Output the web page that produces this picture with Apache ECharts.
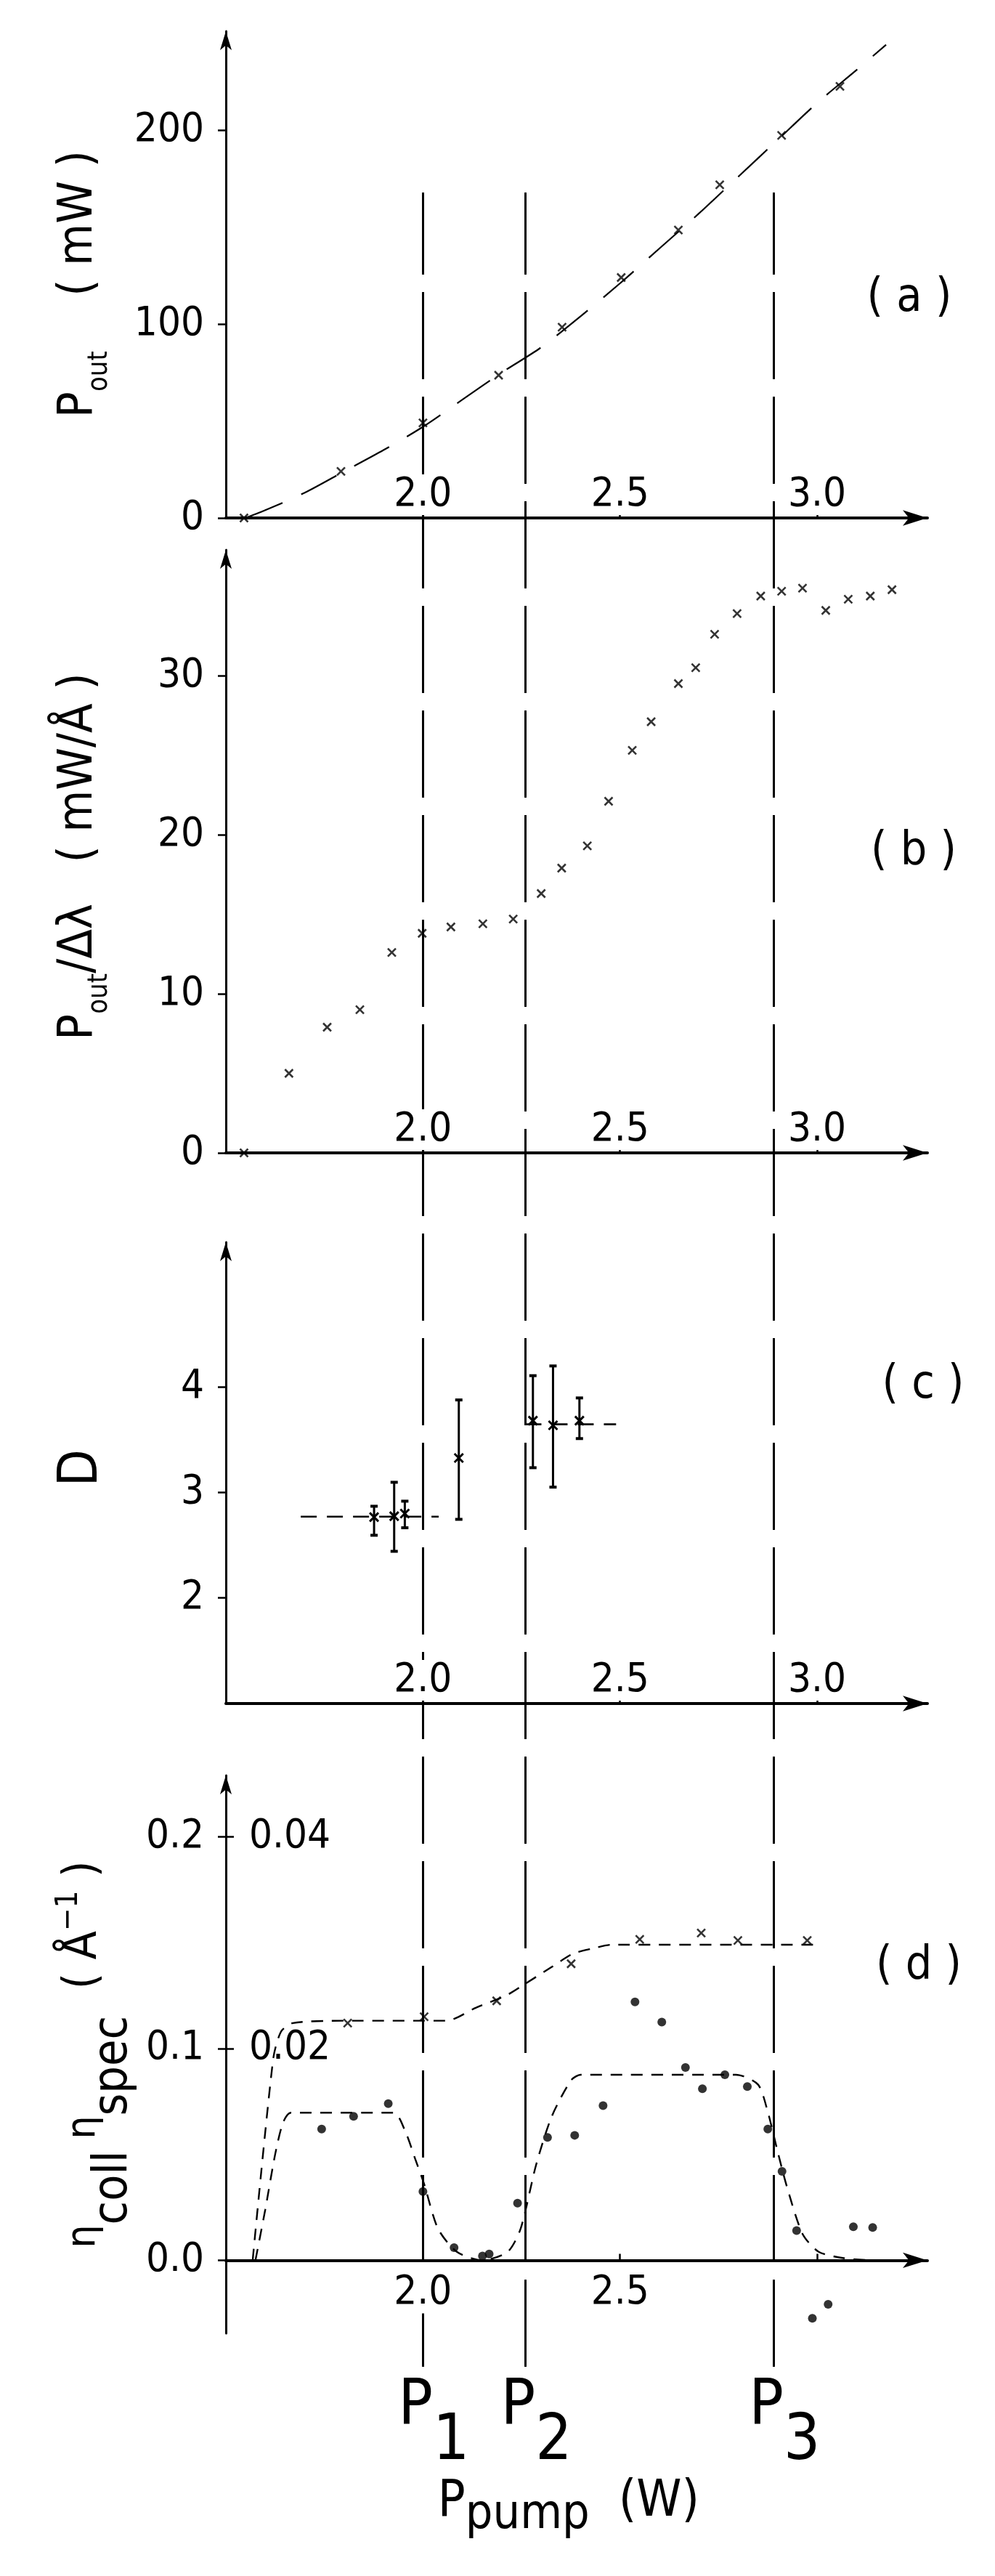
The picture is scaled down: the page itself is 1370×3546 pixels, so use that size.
<!DOCTYPE html>
<html><head><meta charset="utf-8">
<script src="https://cdn.jsdelivr.net/npm/echarts@6/dist/echarts.min.js"></script>
<style>html,body{margin:0;padding:0;background:#fff}#c{width:1370px;height:3546px}</style>
</head><body><div id="c"></div><script>
// ---------------- data ----------------
const X_MIN = 1.5, X_MAX = 3.28;
const xTickValues = [2.0, 2.5, 3.0];
const xLabelValuesD = [2.0, 2.5];

// (a) output power (mW)
const aP      = [1.546, 1.792, 2.0, 2.192, 2.353, 2.503, 2.648, 2.753, 2.91, 3.058];
const aPout   = [0, 24, 49, 73.6, 98.4, 124, 148.5, 171.8, 197.3, 222.6];
const aFitP   = [1.55, 1.6, 1.7, 1.8, 1.9, 2.0, 2.1, 2.2, 2.3, 2.4, 2.5, 2.6, 2.7, 2.8, 2.9, 3.0, 3.1, 3.175];
const aFitOut = [0, 4, 13, 24, 35, 47, 61, 75, 88, 104, 121, 139, 157, 176, 195, 214, 231, 244];
const aTicks  = [0, 100, 200];

// (b) P_out / Δλ (mW/Å)
const bP   = [1.546, 1.66, 1.757, 1.84, 1.921, 1.998, 2.071, 2.152, 2.229, 2.30, 2.352, 2.417, 2.471, 2.531, 2.579, 2.648, 2.692, 2.74, 2.797, 2.857, 2.91, 2.963, 3.022, 3.079, 3.135, 3.19];
const bVal = [0, 5.0, 7.9, 9.0, 12.6, 13.8, 14.2, 14.4, 14.7, 16.3, 17.9, 19.3, 22.1, 25.3, 27.1, 29.5, 30.5, 32.6, 33.9, 35.0, 35.3, 35.5, 34.1, 34.8, 35.0, 35.4];
const bTicks = [0, 10, 20, 30];

// (c) D with error bars
const cP  = [1.876, 1.927, 1.954, 2.091, 2.279, 2.33, 2.397];
const cD  = [2.766, 2.775, 2.80, 3.326, 3.68, 3.636, 3.68];
const cLo = [2.594, 2.442, 2.665, 2.745, 3.234, 3.05, 3.51];
const cHi = [2.869, 3.096, 2.917, 3.876, 4.106, 4.198, 3.895];
const cFitLeftP  = [1.69, 2.04];
const cFitLeftD  = [2.77, 2.77];
const cFitRightP = [2.26, 2.49];
const cFitRightD = [3.645, 3.645];
const cTicks = [2, 3, 4];

// (d) eta_coll (dots, left scale) and eta_spec (crosses, right scale in 1/Å)
const dCollP = [1.743, 1.824, 1.912, 2.0, 2.079, 2.151, 2.168, 2.24, 2.316, 2.385, 2.457, 2.538, 2.606, 2.666, 2.709, 2.766, 2.823, 2.875, 2.911, 2.948, 2.988, 3.028, 3.092, 3.141];
const dColl  = [0.062, 0.068, 0.074, 0.0325, 0.006, 0.002, 0.003, 0.027, 0.058, 0.059, 0.073, 0.122, 0.1125, 0.091, 0.081, 0.0876, 0.082, 0.062, 0.042, 0.014, -0.0274, -0.0208, 0.0158, 0.0155];
const dCollFitP = [1.575, 1.6, 1.625, 1.645, 1.665, 1.925, 1.957, 1.98, 2.003, 2.038, 2.086, 2.151, 2.215, 2.248, 2.287, 2.327, 2.376, 2.40, 2.794, 2.85, 2.875, 2.899, 2.923, 2.963, 3.004, 3.068, 3.141];
const dCollFit  = [0, 0.024, 0.05, 0.065, 0.0697, 0.0697, 0.06, 0.048, 0.036, 0.015, 0.004, 0, 0.004, 0.015, 0.045, 0.068, 0.085, 0.0876, 0.0876, 0.083, 0.07, 0.052, 0.035, 0.0125, 0.004, 0.001, 0];
const dSpecP = [1.809, 2.003, 2.187, 2.376, 2.55, 2.706, 2.799, 2.975];
const dSpec  = [0.0224, 0.0230, 0.0245, 0.0280, 0.0303, 0.0309, 0.0302, 0.0302];
const dSpecFitP = [1.568, 1.62, 1.64, 1.67, 1.80, 2.06, 2.134, 2.215, 2.26, 2.327, 2.38, 2.43, 2.48, 3.0];
const dSpecFit  = [0, 0.019, 0.0216, 0.0224, 0.02262, 0.02262, 0.02384, 0.02508, 0.02612, 0.0277, 0.02894, 0.02944, 0.0298, 0.0298];
const dCollTicks = [0, 0.1, 0.2];
const dSpecTicks = [0.02, 0.04];

// threshold pump powers
const thresholdP = [2.0, 2.26, 2.89];
const thresholdSub = ['1', '2', '3'];
const panelNames = ['( a )', '( b )', '( c )', '( d )'];

// ---------------- style / layout ----------------
const FONT = '"DejaVu Sans Condensed","DejaVu Sans","Liberation Sans",sans-serif';
const GL = 311, GW = 966;
const panelLabelPos = [[1252, 411], [1258, 1173], [1271, 1907], [1265, 2707]];
const CROSS = 'path://M0,0L10,10M10,0L0,10';
const zip = (a, b) => a.map((v, i) => [v, b[i]]);

function xAx(gi, inside, labelVals, tickVals, extra) {
  return Object.assign({
    type: 'value', gridIndex: gi, min: X_MIN, max: X_MAX, z: 10,
    axisLine: { show: true, onZero: false, symbol: ['none', 'arrow'], symbolSize: [16, 34],
      lineStyle: { color: '#000', width: 4 } },
    axisTick: { show: true, inside: true, length: 9, customValues: tickVals,
      lineStyle: { color: '#000', width: 2.5 } },
    axisLabel: { show: true, inside: inside, margin: inside ? 4 : 17, customValues: labelVals,
      formatter: v => v.toFixed(1), fontFamily: FONT, fontSize: 56, color: '#000',
      backgroundColor: '#fff', padding: [0, 2, 0, 2] },
    splitLine: { show: false }
  }, extra || {});
}
function yAx(gi, min, max, ticks, fmt, extra) {
  return Object.assign({
    type: 'value', gridIndex: gi, min: min, max: max, z: 10,
    axisLine: { show: true, onZero: false, symbol: ['none', 'arrow'], symbolSize: [12, 26],
      lineStyle: { color: '#000', width: 3 } },
    axisTick: { show: true, inside: false, length: 11, customValues: ticks,
      lineStyle: { color: '#000', width: 2.5 } },
    axisLabel: { show: true, customValues: ticks, margin: 30, formatter: fmt,
      fontFamily: FONT, fontSize: 56, color: '#000' },
    splitLine: { show: false },
    nameLocation: 'middle', nameRotate: 90
  }, extra || {});
}
const titleRich = {
  m: { fontFamily: FONT, fontSize: 66, lineHeight: 66, color: '#000' },
  s: { fontFamily: FONT, fontSize: 38, lineHeight: 38, color: '#000', padding: [56, 0, 0, 0] }
};
const titleRichD = {
  m: { fontFamily: FONT, fontSize: 64, lineHeight: 64, color: '#000' },
  e: { fontFamily: FONT, fontSize: 56, lineHeight: 56, color: '#000' },
  s: { fontFamily: FONT, fontSize: 66, lineHeight: 66, color: '#000', padding: [83, 0, 0, 0] },
  sup: { fontFamily: FONT, fontSize: 42, lineHeight: 42, color: '#000', padding: [0, 0, 40, 0] }
};
const gridBase = { left: GL, width: GW, outerBoundsMode: 'none', containLabel: false };

const chart = echarts.init(document.getElementById('c'), null, { renderer: 'canvas' });
const option = {
  animation: false,
  backgroundColor: '#fff',
  grid: [
    Object.assign({ top: 43, height: 670 }, gridBase),     // (a)
    Object.assign({ top: 757, height: 830 }, gridBase),    // (b)
    Object.assign({ top: 1710, height: 635 }, gridBase),   // (c)
    Object.assign({ top: 2444, height: 768 }, gridBase),   // (d) data
    Object.assign({ top: 265, height: 2993 }, gridBase),   // threshold lines
    Object.assign({ top: 3000, height: 111.4 }, gridBase)  // (d) x axis at zero
  ],
  xAxis: [
    xAx(0, true, xTickValues, xTickValues),
    xAx(1, true, xTickValues, xTickValues),
    xAx(2, true, xTickValues, xTickValues),
    { type: 'value', gridIndex: 3, min: X_MIN, max: X_MAX, show: false },
    { type: 'value', gridIndex: 4, min: X_MIN, max: X_MAX, show: false },
    xAx(5, false, xLabelValuesD, xTickValues, {
      name: '{m|P}{s|pump}{m|  (W)}', nameLocation: 'middle', nameGap: 298,
      nameTextStyle: { padding: [0, 22, 0, 0], rich: {
        m: { fontFamily: FONT, fontSize: 70, lineHeight: 70, color: '#000' },
        s: { fontFamily: FONT, fontSize: 66, lineHeight: 66, color: '#000', padding: [36, 0, 0, 0] }
      } }
    })
  ],
  yAxis: [
    yAx(0, 0, 251, aTicks, v => String(v), {
      name: '{m|P}{s|out}{m|    ( mW )}', nameGap: 169,
      nameTextStyle: { padding: [0, 26, 0, 0], rich: titleRich } }),
    yAx(1, 0, 37.9, bTicks, v => String(v), {
      name: '{m|P}{s|out}{m|/Δλ   ( mW/Å )}', nameGap: 169,
      nameTextStyle: { padding: [0, 14, 0, 0], rich: titleRich } }),
    yAx(2, 1, 5.37, cTicks, v => String(v), {
      name: 'D', nameGap: 160, nameTextStyle: { fontFamily: FONT, fontSize: 74, color: '#000', padding: [0, 0, 0, 14] } }),
    yAx(3, -0.0345, 0.2289, dCollTicks, v => v.toFixed(1), {
      name: '{e|η}{s|coll}{e| η}{s|spec}{m|  ( Å}{sup|−1}{m| )}', nameGap: 138,
      nameTextStyle: { rich: titleRichD } }),
    { type: 'value', gridIndex: 3, min: -0.0345 / 5, max: 0.2289 / 5, position: 'left', z: 10,
      axisLine: { show: false },
      axisTick: { show: true, inside: true, length: 11, customValues: dSpecTicks,
        lineStyle: { color: '#000', width: 2.5 } },
      axisLabel: { show: true, inside: true, margin: 32, customValues: dSpecTicks,
        formatter: v => v.toFixed(2), fontFamily: FONT, fontSize: 56, color: '#000' },
      splitLine: { show: false } },
    { type: 'value', gridIndex: 4, min: 0, max: 1, show: false },
    { type: 'value', gridIndex: 5, min: 0, max: 1, show: false }
  ],
  graphic: panelNames.map((t, i) => ({
    type: 'text', x: panelLabelPos[i][0], y: panelLabelPos[i][1], z: 20,
    style: { text: t, font: '64px ' + FONT, fill: '#000', align: 'center', verticalAlign: 'middle' }
  })),
  series: [
    // (a)
    { type: 'line', xAxisIndex: 0, yAxisIndex: 0, data: zip(aFitP, aFitOut), showSymbol: false, smooth: 0.3,
      lineStyle: { color: '#000', width: 2.2, type: [55, 28] }, z: 3 },
    { type: 'scatter', xAxisIndex: 0, yAxisIndex: 0, data: zip(aP, aPout), symbol: CROSS, symbolSize: 11,
      itemStyle: { color: 'rgba(0,0,0,0)', borderColor: '#000', borderWidth: 2.6 }, z: 4 },
    // (b)
    { type: 'scatter', xAxisIndex: 1, yAxisIndex: 1, data: zip(bP, bVal), symbol: CROSS, symbolSize: 11,
      itemStyle: { color: 'rgba(0,0,0,0)', borderColor: '#000', borderWidth: 2.6 }, z: 4 },
    // (c)
    { type: 'line', xAxisIndex: 2, yAxisIndex: 2, data: zip(cFitLeftP, cFitLeftD), showSymbol: false,
      lineStyle: { color: '#000', width: 2.6, type: [22, 14] }, z: 3 },
    { type: 'line', xAxisIndex: 2, yAxisIndex: 2, data: zip(cFitRightP, cFitRightD), showSymbol: false,
      lineStyle: { color: '#000', width: 2.6, type: [22, 14] }, z: 3 },
    { type: 'custom', xAxisIndex: 2, yAxisIndex: 2, z: 4,
      data: cP.map((p, i) => [p, cD[i], cLo[i], cHi[i]]),
      encode: { x: 0, y: [1, 2, 3] },
      renderItem: function (params, api) {
        const c = api.coord([api.value(0), api.value(1)]);
        const lo = api.coord([api.value(0), api.value(2)]);
        const hi = api.coord([api.value(0), api.value(3)]);
        const cap = 5, m = 6, st = { stroke: '#000', lineWidth: 3 };
        return { type: 'group', children: [
          { type: 'line', shape: { x1: lo[0], y1: lo[1], x2: hi[0], y2: hi[1] }, style: st },
          { type: 'line', shape: { x1: lo[0] - cap, y1: lo[1], x2: lo[0] + cap, y2: lo[1] }, style: { stroke: '#000', lineWidth: 4 } },
          { type: 'line', shape: { x1: hi[0] - cap, y1: hi[1], x2: hi[0] + cap, y2: hi[1] }, style: { stroke: '#000', lineWidth: 4 } },
          { type: 'line', shape: { x1: c[0] - m, y1: c[1] - m, x2: c[0] + m, y2: c[1] + m }, style: st },
          { type: 'line', shape: { x1: c[0] - m, y1: c[1] + m, x2: c[0] + m, y2: c[1] - m }, style: st }
        ] };
      } },
    // (d)
    { type: 'line', xAxisIndex: 3, yAxisIndex: 3, data: zip(dCollFitP, dCollFit), showSymbol: false, smooth: 0.25,
      lineStyle: { color: '#000', width: 2.4, type: [16, 12] }, z: 3 },
    { type: 'scatter', xAxisIndex: 3, yAxisIndex: 3, data: zip(dCollP, dColl), symbol: 'circle', symbolSize: 12,
      itemStyle: { color: '#000' }, z: 4 },
    { type: 'line', xAxisIndex: 3, yAxisIndex: 4, data: zip(dSpecFitP, dSpecFit), showSymbol: false, smooth: 0.25,
      lineStyle: { color: '#000', width: 2.4, type: [16, 12] }, z: 3 },
    { type: 'scatter', xAxisIndex: 3, yAxisIndex: 4, data: zip(dSpecP, dSpec), symbol: CROSS, symbolSize: 11,
      itemStyle: { color: 'rgba(0,0,0,0)', borderColor: '#000', borderWidth: 2.6 }, z: 4 },
    // thresholds P1, P2, P3 across all panels
    { type: 'line', xAxisIndex: 4, yAxisIndex: 5, data: [], showSymbol: false, z: 1, silent: true,
      markLine: {
        symbol: 'none', silent: true, animation: false,
        lineStyle: { color: '#000', width: 3, type: [120, 24] },
        label: { show: true, position: 'start', distance: 60, padding: [0, 0, 0, 30] },
        data: thresholdP.map((p, i) => ({
          xAxis: p,
          label: {
            formatter: '{m|P}{s|' + thresholdSub[i] + '}',
            rich: {
              m: { fontFamily: FONT, fontSize: 88, lineHeight: 88, color: '#000', padding: [0, 0, 96, 0] },
              s: { fontFamily: FONT, fontSize: 88, lineHeight: 88, color: '#000' }
            }
          }
        }))
      } }
  ]
};
chart.setOption(option);
</script></body></html>
